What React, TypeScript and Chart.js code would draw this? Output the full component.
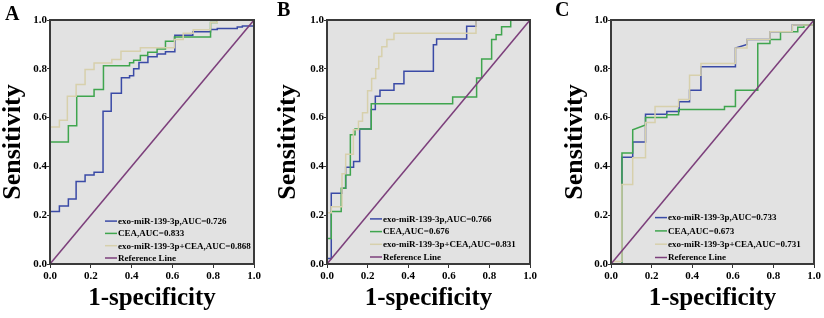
import React, { useEffect, useRef } from "react";
import { Chart, registerables } from "chart.js";
Chart.register(...registerables);

type P = [number, number];

const FONT = "'Liberation Serif', 'Times New Roman', serif";

const tickValues = [0, 0.2, 0.4, 0.6, 0.8, 1.0];
const tickLabels = ["0.0", "0.2", "0.4", "0.6", "0.8", "1.0"];
const xTitle = "1-specificity";
const yTitle = "Sensitivity";
const panelLetters = ["A", "B", "C"];

const labelsA = ["exo-miR-139-3p,AUC=0.726", "CEA,AUC=0.833", "exo-miR-139-3p+CEA,AUC=0.868", "Reference Line"];
const labelsB = ["exo-miR-139-3p,AUC=0.766", "CEA,AUC=0.676", "exo-miR-139-3p+CEA,AUC=0.831", "Reference Line"];
const labelsC = ["exo-miR-139-3p,AUC=0.733", "CEA,AUC=0.673", "exo-miR-139-3p+CEA,AUC=0.731", "Reference Line"];

const seriesColors = ["#3a4aa6", "#3fa54e", "#d7d0ac", "#7c3f7b"];

// Panel A
const exoA: P[] = [[0,0],[0,0.215],[0.046,0.215],[0.046,0.238],[0.09,0.238],[0.09,0.266],[0.128,0.266],[0.128,0.338],[0.172,0.338],[0.172,0.365],[0.216,0.365],[0.216,0.376],[0.26,0.376],[0.26,0.626],[0.30,0.626],[0.30,0.70],[0.35,0.70],[0.35,0.763],[0.39,0.763],[0.39,0.772],[0.41,0.772],[0.41,0.80],[0.436,0.80],[0.436,0.826],[0.48,0.826],[0.48,0.849],[0.525,0.849],[0.525,0.861],[0.566,0.861],[0.566,0.87],[0.612,0.87],[0.612,0.938],[0.70,0.938],[0.70,0.952],[0.787,0.952],[0.787,0.961],[0.82,0.961],[0.82,0.965],[0.918,0.965],[0.918,0.971],[0.943,0.971],[0.943,0.975],[1,0.975],[1,1]];
const ceaA: P[] = [[0,0],[0,0.50],[0.09,0.50],[0.09,0.567],[0.131,0.567],[0.131,0.687],[0.216,0.687],[0.216,0.715],[0.262,0.715],[0.262,0.813],[0.39,0.813],[0.39,0.825],[0.41,0.825],[0.41,0.835],[0.443,0.835],[0.443,0.855],[0.479,0.855],[0.479,0.868],[0.525,0.868],[0.525,0.881],[0.566,0.881],[0.566,0.913],[0.61,0.913],[0.61,0.93],[0.787,0.93],[0.787,0.99],[0.82,0.99],[0.82,1],[1,1]];
const comboA: P[] = [[0,0],[0,0.561],[0.046,0.561],[0.046,0.589],[0.085,0.589],[0.085,0.687],[0.128,0.687],[0.128,0.736],[0.172,0.736],[0.172,0.797],[0.216,0.797],[0.216,0.824],[0.303,0.824],[0.303,0.838],[0.348,0.838],[0.348,0.872],[0.443,0.872],[0.443,0.886],[0.61,0.886],[0.61,0.92],[0.653,0.92],[0.653,0.946],[0.702,0.946],[0.702,0.96],[0.787,0.96],[0.787,0.99],[0.82,0.99],[0.82,1],[1,1]];

// Panel B
const exoB: P[] = [[0,0],[0,0.023],[0.021,0.023],[0.021,0.29],[0.074,0.29],[0.074,0.31],[0.092,0.31],[0.092,0.397],[0.131,0.397],[0.131,0.42],[0.161,0.42],[0.161,0.553],[0.218,0.553],[0.218,0.633],[0.238,0.633],[0.238,0.687],[0.261,0.687],[0.261,0.712],[0.33,0.712],[0.33,0.739],[0.379,0.739],[0.379,0.79],[0.524,0.79],[0.524,0.899],[0.54,0.899],[0.54,0.922],[0.688,0.922],[0.688,0.974],[0.734,0.974],[0.734,1],[1,1]];
const ceaB: P[] = [[0,0],[0,0.105],[0.021,0.105],[0.021,0.215],[0.07,0.215],[0.07,0.31],[0.092,0.31],[0.092,0.365],[0.115,0.365],[0.115,0.53],[0.138,0.53],[0.138,0.553],[0.218,0.553],[0.218,0.657],[0.619,0.657],[0.619,0.684],[0.737,0.684],[0.737,0.762],[0.762,0.762],[0.762,0.84],[0.811,0.84],[0.811,0.92],[0.833,0.92],[0.833,0.94],[0.86,0.94],[0.86,0.972],[0.905,0.972],[0.905,1],[1,1]];
const comboB: P[] = [[0,0],[0,0.21],[0.021,0.21],[0.021,0.235],[0.074,0.235],[0.074,0.37],[0.092,0.37],[0.092,0.45],[0.13,0.45],[0.13,0.55],[0.155,0.55],[0.155,0.585],[0.175,0.585],[0.175,0.62],[0.20,0.62],[0.20,0.71],[0.22,0.71],[0.22,0.76],[0.24,0.76],[0.24,0.80],[0.255,0.80],[0.255,0.85],[0.27,0.85],[0.27,0.89],[0.295,0.89],[0.295,0.92],[0.33,0.92],[0.33,0.946],[0.734,0.946],[0.734,1],[1,1]];

// Panel C
const exoC: P[] = [[0,0],[0.054,0],[0.054,0.438],[0.107,0.438],[0.107,0.50],[0.17,0.50],[0.17,0.614],[0.275,0.614],[0.275,0.625],[0.336,0.625],[0.336,0.665],[0.387,0.665],[0.387,0.712],[0.443,0.712],[0.443,0.808],[0.613,0.808],[0.613,0.885],[0.67,0.90],[0.67,0.92],[0.783,0.92],[0.783,0.952],[0.893,0.952],[0.893,0.979],[1,0.979],[1,1]];
const ceaC: P[] = [[0,0],[0.054,0],[0.054,0.455],[0.107,0.455],[0.107,0.55],[0.17,0.57],[0.17,0.60],[0.275,0.60],[0.275,0.612],[0.333,0.612],[0.333,0.633],[0.559,0.633],[0.559,0.646],[0.613,0.646],[0.613,0.712],[0.723,0.712],[0.723,0.904],[0.783,0.904],[0.783,0.92],[0.835,0.92],[0.835,0.952],[0.92,0.952],[0.92,0.97],[0.95,0.97],[0.95,0.979],[1,0.979],[1,1]];
const comboC: P[] = [[0,0],[0,0.01],[0.054,0.01],[0.054,0.326],[0.107,0.326],[0.107,0.435],[0.17,0.435],[0.17,0.58],[0.217,0.58],[0.217,0.646],[0.333,0.646],[0.333,0.674],[0.387,0.674],[0.387,0.774],[0.443,0.774],[0.443,0.822],[0.613,0.822],[0.613,0.885],[0.67,0.885],[0.67,0.92],[0.783,0.92],[0.783,0.952],[0.893,0.952],[0.893,0.979],[1,0.979],[1,1]];

const referenceLine: P[] = [[0, 0], [1, 1]];

const panelSeries = [
  [exoA, ceaA, comboA, referenceLine],
  [exoB, ceaB, comboB, referenceLine],
  [exoC, ceaC, comboC, referenceLine],
];
const panelLabels = [labelsA, labelsB, labelsC];

// layout (pixels)
const layouts = [
  { left: 0, width: 265, yAxisW: 50, padRight: 11, legendDx: 55, legendGap: 12.3, legendDy: 6, letterX: 5, letterY: 3 },
  { left: 275, width: 266, yAxisW: 52, padRight: 11, legendDx: 43, legendGap: 12.7, legendDy: 7, letterX: 277, letterY: -1.5 },
  { left: 562, width: 262, yAxisW: 49, padRight: 10, legendDx: 44, legendGap: 13.3, legendDy: 6.5, letterX: 555, letterY: -1 },
];
const H = 318;

function makeDecoPlugin(lay: any) {
  return {
    id: "deco",
    beforeDatasetsDraw(chart: any) {
      const { ctx, chartArea: a } = chart;
      ctx.save();
      ctx.fillStyle = "#e2e2e2";
      ctx.fillRect(a.left, a.top, a.right - a.left, a.bottom - a.top);
      ctx.restore();
    },
    afterDraw(chart: any) {
      const { ctx, chartArea: a } = chart;
      ctx.save();
      ctx.strokeStyle = "#3a3a3a";
      ctx.lineWidth = 2;
      ctx.strokeRect(Math.round(a.left), Math.round(a.top), Math.round(a.right - a.left), Math.round(a.bottom - a.top));
      // legend
      const ds = chart.data.datasets;
      const n = ds.length;
      const x0 = a.left + lay.legendDx;
      ctx.font = `bold 9px ${FONT}`;
      ctx.textBaseline = "middle";
      ctx.textAlign = "left";
      for (let i = 0; i < n; i++) {
        const y = a.bottom - lay.legendDy - (n - 1 - i) * lay.legendGap;
        ctx.strokeStyle = ds[i].borderColor;
        ctx.lineWidth = 1.5;
        ctx.beginPath();
        ctx.moveTo(x0, y);
        ctx.lineTo(x0 + 12, y);
        ctx.stroke();
        ctx.fillStyle = "#000";
        ctx.fillText(ds[i].label, x0 + 13, y + 0.5);
      }
      ctx.restore();
    },
  };
}

function Panel({ idx }: { idx: number }) {
  const ref = useRef<HTMLCanvasElement>(null);
  const lay = layouts[idx];
  useEffect(() => {
    const series = panelSeries[idx];
    const labels = panelLabels[idx];
    const orders = [4, 3, 2, 1];
    const chart = new Chart(ref.current as HTMLCanvasElement, {
      type: "scatter",
      data: {
        datasets: series.map((s, i) => ({
          label: labels[i],
          data: s.map(([x, y]) => ({ x, y })),
          showLine: true,
          borderColor: seriesColors[i],
          backgroundColor: seriesColors[i],
          borderWidth: 1.5,
          pointRadius: 0,
          pointHoverRadius: 0,
          tension: 0,
          order: orders[i],
        })),
      },
      options: {
        animation: false,
        responsive: false,
        devicePixelRatio: 1,
        events: [],
        layout: { padding: { top: 20, right: lay.padRight, left: 0, bottom: 0 } },
        plugins: { legend: { display: false }, tooltip: { enabled: false } },
        scales: {
          x: {
            type: "linear",
            min: 0,
            max: 1,
            afterBuildTicks: (s: any) => { s.ticks = tickValues.map((v) => ({ value: v })); },
            afterFit: (s: any) => { s.height = 54; },
            grid: { display: true, drawOnChartArea: false, drawTicks: true, tickLength: 4, color: "#333" },
            border: { display: false },
            ticks: {
              autoSkip: false,
              maxRotation: 0,
              padding: 2,
              color: "#000",
              font: { family: FONT, size: 11, weight: "bold" },
              callback: (_v: any, i: number) => tickLabels[i],
            },
            title: {
              display: true,
              text: xTitle,
              color: "#000",
              font: { family: FONT, size: 25, weight: "bold", lineHeight: 1 },
              padding: { top: 0, bottom: 7 },
            },
          },
          y: {
            type: "linear",
            min: 0,
            max: 1,
            afterBuildTicks: (s: any) => { s.ticks = tickValues.map((v) => ({ value: v })); },
            afterFit: (s: any) => { s.width = lay.yAxisW; },
            grid: { display: true, drawOnChartArea: false, drawTicks: true, tickLength: 3, color: "#333" },
            border: { display: false },
            ticks: {
              autoSkip: false,
              padding: 0,
              color: "#000",
              font: { family: FONT, size: 11, weight: "bold" },
              callback: (_v: any, i: number) => tickLabels[i],
            },
            title: {
              display: true,
              text: yTitle,
              color: "#000",
              font: { family: FONT, size: 26, weight: "bold", lineHeight: 1 },
              padding: { top: 0, bottom: 0 },
            },
          },
        },
      },
      plugins: [makeDecoPlugin(lay)],
    } as any);
    return () => chart.destroy();
  }, [idx]);
  return (
    <>
      <canvas
        ref={ref}
        width={lay.width}
        height={H}
        style={{ position: "absolute", left: lay.left, top: 0, width: lay.width, height: H }}
      />
      <div
        style={{
          position: "absolute",
          left: lay.letterX,
          top: lay.letterY,
          fontFamily: FONT,
          fontWeight: "bold",
          fontSize: 20,
          lineHeight: 1,
          color: "#000",
        }}
      >
        {panelLetters[idx]}
      </div>
    </>
  );
}

export default function App() {
  return (
    <div style={{ position: "fixed", left: 0, top: 0, width: 824, height: H, background: "#fff", overflow: "hidden" }}>
      <Panel idx={0} />
      <Panel idx={1} />
      <Panel idx={2} />
    </div>
  );
}
